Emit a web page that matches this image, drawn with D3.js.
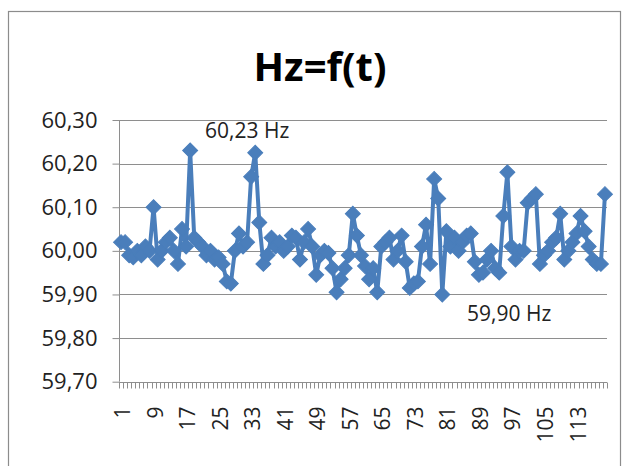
<!DOCTYPE html>
<html>
<head>
<meta charset="utf-8">
<script src="https://cdn.jsdelivr.net/npm/d3@7"></script>
<style>
  html, body { margin: 0; padding: 0; background: #fff; }
  svg { display: block; }
  text { font-family: "Open Sans", "DejaVu Sans", sans-serif; fill: #222; }
</style>
</head>
<body>
<svg id="chart" width="625" height="466"></svg>
<script>
// Grid frequency samples, one per time step
const samples = d3.range(1, 121);
const hz = [
  60.02, 60.02, 59.99, 59.985, 60.00, 59.99, 60.01, 60.00, 60.10, 59.98,
  60.00, 60.02, 60.03, 60.00, 59.97, 60.05, 60.01, 60.23, 60.03, 60.02,
  60.01, 59.99, 60.00, 59.98, 59.985, 59.97, 59.93, 59.925, 60.00, 60.04,
  60.01, 60.02, 60.17, 60.225, 60.065, 59.97, 59.99, 60.03, 60.01, 60.02,
  60.00, 60.01, 60.035, 60.03, 59.98, 60.02, 60.05, 60.01, 59.945, 59.99,
  60.00, 59.995, 59.96, 59.905, 59.935, 59.96, 59.99, 60.085, 60.035, 59.99,
  59.965, 59.935, 59.96, 59.905, 60.01, 60.02, 60.03, 59.98, 60.00, 60.035,
  59.975, 59.915, 59.925, 59.93, 60.01, 60.06, 59.97, 60.165, 60.12, 59.90,
  60.045, 60.01, 60.03, 60.00, 60.02, 60.035, 60.04, 59.975, 59.945, 59.95,
  59.98, 60.00, 59.96, 59.95, 60.08, 60.18, 60.01, 59.98, 60.00, 60.00,
  60.11, 60.12, 60.13, 59.97, 59.99, 60.00, 60.02, 60.03, 60.085, 59.98,
  60.00, 60.02, 60.04, 60.08, 60.045, 60.01, 59.98, 59.97, 59.97, 60.13
];
const yTicks = [59.70, 59.80, 59.90, 60.00, 60.10, 60.20, 60.30];
const xTickLabels = samples.filter(d => (d - 1) % 8 === 0);
const title = "Hz=f(t)";
const notes = [
  { text: "60,23 Hz", sample: 18, value: 60.23 },
  { text: "59,90 Hz", sample: 80, value: 59.90 }
];

const fmt = v => v.toFixed(2).replace(".", ",");
const blue = "#4a7ebb";

const svg = d3.select("#chart");

// chart frame
svg.append("rect")
  .attr("x", 8.5).attr("y", 11.5)
  .attr("width", 612).attr("height", 470)
  .attr("fill", "#fff").attr("stroke", "#8c8c8c").attr("stroke-width", 1.2);

const plot = { left: 119, right: 607, top: 120, bottom: 381.7 };

const x = d3.scaleBand().domain(samples).range([plot.left, plot.right]).padding(0);
const y = d3.scaleLinear().domain([59.70, 60.30]).range([plot.bottom, plot.top]);

// title
svg.append("text")
  .attr("x", 320).attr("y", 81)
  .attr("text-anchor", "middle")
  .style("font-size", "40px").style("font-weight", "bold").style("fill", "#000")
  .text(title);

// horizontal gridlines
svg.append("g")
  .selectAll("line").data(yTicks.slice(1)).join("line")
  .attr("x1", plot.left).attr("x2", plot.right)
  .attr("y1", d => Math.round(y(d)) + 0.5).attr("y2", d => Math.round(y(d)) + 0.5)
  .attr("stroke", "#8e8e8e").attr("stroke-width", 1);

// y axis
const yAxis = d3.axisLeft(y).tickValues(yTicks).tickFormat(fmt).tickSize(7).tickPadding(15);
svg.append("g")
  .attr("transform", `translate(${plot.left + 0.5},0)`)
  .call(yAxis)
  .call(g => g.select(".domain").attr("stroke", "#8e8e8e").attr("d", `M0,${plot.top}V${plot.bottom}`))
  .call(g => g.selectAll(".tick line").attr("stroke", "#8e8e8e"))
  .call(g => g.selectAll(".tick text").style("font-size", "22px").style("font-family", "'Open Sans', sans-serif").attr("fill", "#222"));

// x axis: tick marks between categories
const gx = svg.append("g").attr("transform", `translate(0,${Math.round(plot.bottom) + 0.5})`);
gx.append("line")
  .attr("x1", plot.left).attr("x2", plot.right)
  .attr("stroke", "#8e8e8e");
gx.selectAll("line.tk").data(samples.concat([samples.length + 1])).join("line")
  .attr("class", "tk")
  .attr("x1", d => Math.round(d <= samples.length ? x(d) : plot.right) + 0.5)
  .attr("x2", d => Math.round(d <= samples.length ? x(d) : plot.right) + 0.5)
  .attr("y1", 0).attr("y2", 6)
  .attr("stroke", "#8e8e8e");
gx.selectAll("text").data(xTickLabels).join("text")
  .attr("transform", d => `translate(${x(d) + x.bandwidth() / 2 + 1},24) rotate(-90)`)
  .attr("text-anchor", "end")
  .attr("dominant-baseline", "central")
  .style("font-size", "21px")
  .text(d => d);

// frequency line
const pts = samples.map((s, i) => [x(s) + x.bandwidth() / 2, y(hz[i])]);
svg.append("path")
  .datum(pts)
  .attr("d", d3.line())
  .attr("fill", "none")
  .attr("stroke", blue).attr("stroke-width", 4)
  .attr("stroke-linejoin", "round");

// diamond markers
const diamond = d3.symbol(d3.symbolSquare, 112);
svg.append("g")
  .selectAll("path").data(pts).join("path")
  .attr("transform", d => `translate(${d[0]},${d[1]}) rotate(45)`)
  .attr("d", diamond)
  .attr("fill", blue).attr("stroke", blue).attr("stroke-width", 1);

// annotations for extreme values
svg.append("text")
  .attr("x", 205).attr("y", 130)
  .attr("dominant-baseline", "central")
  .style("font-size", "21px")
  .text(notes[0].text);
svg.append("text")
  .attr("x", 467).attr("y", 313)
  .attr("dominant-baseline", "central")
  .style("font-size", "21px")
  .text(notes[1].text);
</script>
</body>
</html>
